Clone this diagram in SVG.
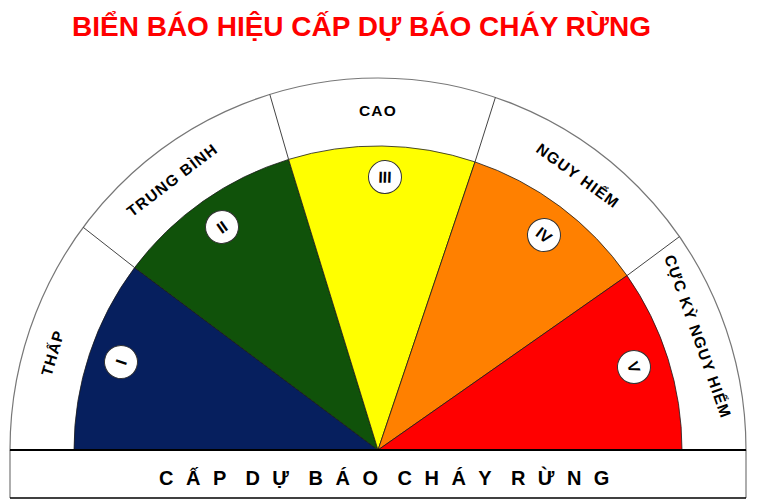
<svg xmlns="http://www.w3.org/2000/svg" width="760" height="500" viewBox="0 0 760 500">
<style>
.title{font-family:"Liberation Sans",Arial,sans-serif;font-weight:bold;font-size:28px;fill:#ff0000}
.lbl{font-family:"Liberation Sans",Arial,sans-serif;font-weight:bold;font-size:15.5px;fill:#000;letter-spacing:1.2px;text-anchor:middle}
.num{font-family:"Liberation Sans",Arial,sans-serif;font-weight:bold;font-size:16px;fill:#000;text-anchor:middle}
.band{font-family:"Liberation Sans",Arial,sans-serif;font-weight:bold;font-size:20px;fill:#000;letter-spacing:12.5px;word-spacing:-11px}
.wedge{stroke:#1a1a1a;stroke-width:0.8}
.div{stroke:#444;stroke-width:1;fill:none}
.badge{fill:#fff;stroke:#333;stroke-width:1}
</style>
<rect width="760" height="500" fill="#fff"/>
<text class="title" x="72" y="36">BIỂN BÁO HIỆU CẤP DỰ BÁO CHÁY RỪNG</text>

<g id="ring">
<path d="M10,450 A368,372 0 0 1 746,450 Z" fill="#fff" stroke="#777" stroke-width="1.2"/>
</g>

<g id="wedges">
<path id="w1" class="wedge" fill="#061f5e" d="M378,450 L74,450 A304,304 0 0 1 134.6,267.6 Z"/>
<path id="w2" class="wedge" fill="#10520a" d="M378,450 L134.6,267.6 A304,304 0 0 1 288.6,159.4 Z"/>
<path id="w3" class="wedge" fill="#ffff00" d="M378,450 L288.6,159.4 A304,304 0 0 1 475,161.9 Z"/>
<path id="w4" class="wedge" fill="#ff8000" d="M378,450 L475,161.9 A304,304 0 0 1 627,275.6 Z"/>
<path id="w5" class="wedge" fill="#ff0000" d="M378,450 L627,275.6 A304,304 0 0 1 682,450 Z"/>
</g>

<g id="connectors">
<line class="div" x1="134.6" y1="267.6" x2="83.2" y2="227.3"/>
<line class="div" x1="288.6" y1="159.4" x2="269.8" y2="94.4"/>
<line class="div" x1="475" y1="161.9" x2="495.4" y2="97.4"/>
<line class="div" x1="627" y1="275.6" x2="679.5" y2="236.6"/>
</g>

<g id="labels">
<g id="l-thap"><text class="lbl" x="378" y="116" transform="rotate(-73.4 378 450)">THẤP</text></g>
<g id="l-tb"><text class="lbl" x="378" y="116" transform="rotate(-37.3 378 450)">TRUNG BÌNH</text></g>
<g id="l-cao"><text class="lbl" x="378" y="116">CAO</text></g>
<g id="l-nh"><text class="lbl" x="378" y="116" transform="rotate(36.1 378 450)">NGUY HIỂM</text></g>
<g id="l-cknh"><text class="lbl" x="378" y="116" transform="rotate(70.5 378 450)">CỰC KỲ NGUY HIỂM</text></g>
</g>

<g id="badges">
<g id="b1" transform="translate(121,362) rotate(-71)"><circle class="badge" r="16.5"/><text class="num" y="5.8">I</text></g>
<g id="b2" transform="translate(222,227) rotate(-35)"><circle class="badge" r="16.5"/><text class="num" y="5.8">II</text></g>
<g id="b3" transform="translate(385,177) rotate(1.5)"><circle class="badge" r="16.5"/><text class="num" y="5.8">III</text></g>
<g id="b4" transform="translate(544,235) rotate(37.7)"><circle class="badge" r="16.5"/><text class="num" y="5.8">IV</text></g>
<g id="b5" transform="translate(634,367) rotate(72)"><circle class="badge" r="16.5"/><text class="num" y="5.8">V</text></g>
</g>

<g id="bottom-band">
<rect x="10" y="450" width="736" height="48" fill="#fff"/>
<line x1="10" y1="450" x2="10" y2="498" stroke="#777" stroke-width="1.2"/>
<line x1="746" y1="450" x2="746" y2="498" stroke="#777" stroke-width="1.2"/>
<line x1="10" y1="450" x2="746" y2="450" stroke="#000" stroke-width="2"/>
<line x1="10" y1="498" x2="746" y2="498" stroke="#000" stroke-width="1.5"/>
<text class="band" x="159" y="484.5">CẤP DỰ BÁO CHÁY RỪNG</text>
</g>
</svg>
